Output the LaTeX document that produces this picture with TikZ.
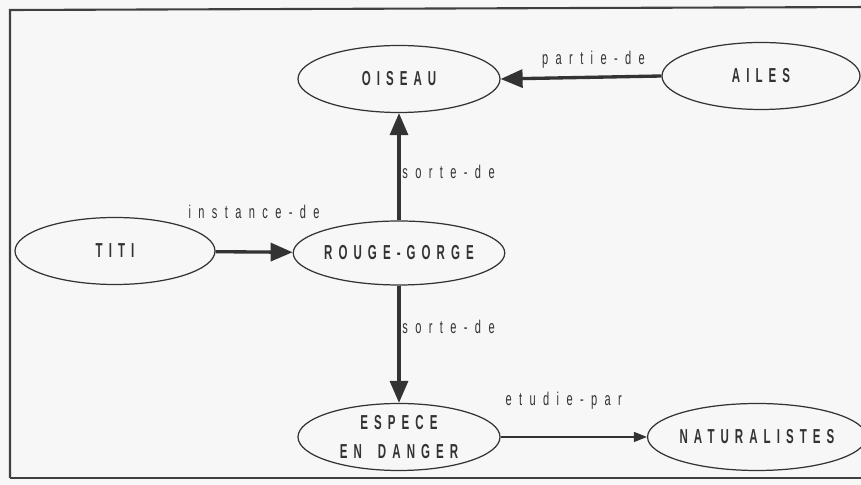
\documentclass[tikz,border=0pt]{standalone}
\usepackage{fontspec}
\newfontfamily\netfont[FakeStretch=0.57,LetterSpace=30]{Liberation Sans}
\newfontfamily\relfont[FakeStretch=0.6,LetterSpace=40]{Liberation Sans}
\usetikzlibrary{
    arrows.meta,
    shapes.geometric
}
\tikzset{
    % Colors
    ink color/.style={black!80},
    paper color/.style={black!3},
    %
    % Nodes
    concept/.style={ellipse,draw=black!70,line width=0.7pt,inner sep=0pt,minimum width=4.04cm,minimum height=1.34cm,font=\netfont\bfseries\fontsize{11.5}{17}\selectfont,ink color,align=center},
    relation/.style={font=\relfont\fontsize{10.5}{12}\selectfont,ink color,inner sep=1pt},
    %
    % Arrows
    arrow tip/.tip={Triangle[length=0.44cm,width=0.36cm]},
    small tip/.tip={Triangle[length=0.26cm,width=0.2cm]},
    big arr/.style={-{arrow tip},line width=1.9pt,ink color},
    thin arr/.style={-{small tip},line width=0.7pt,ink color},
    frame/.style={line width=1.2pt,black!75}
}

\begin{document}
\begin{tikzpicture}
        \useasboundingbox[fill,paper color] (0,0) rectangle (17.22,9.7);
        \draw[frame] (0.2,0.14) -- (0.2,9.5) -- (17.5,9.56);
        \draw[frame] (0.2,0.14) -- (17.5,0.14);
        % concepts
        \node[concept] (oiseau) at (7.98,8.12) {OISEAU};
        \node[concept,minimum width=3.96cm] (ailes) at (15.22,8.18) {AILES};
        \node[concept,minimum width=4cm] (titi) at (2.30,4.68) {TITI};
        \node[concept,minimum height=1.28cm] (rouge gorge) at (7.98,4.64) {ROUGE-GORGE};
        \node[concept] (espece) at (7.98,0.96) {ESPECE\\EN\hspace{0.8em}DANGER};
        \node[concept,minimum width=4.08cm] (naturalistes) at (15.14,0.96) {NATURALISTES};
        % relations
        \draw[big arr] (titi) -- node[relation,above=0.6cm] {instance-de} (rouge gorge);
        \draw[big arr] (rouge gorge) -- node[relation,right,pos=0.45] {sorte-de} (oiseau);
        \draw[big arr] (ailes.west) -- node[relation,above=0.12cm,xshift=0.25cm] {partie-de} (oiseau.east);
        \draw[big arr] (rouge gorge) -- node[relation,right,pos=0.35] {sorte-de} (espece);
        \draw[thin arr] (espece) -- node[relation,above=0.5cm,xshift=-0.2cm] {etudie-par} (naturalistes);
    \end{tikzpicture}
\end{document}
